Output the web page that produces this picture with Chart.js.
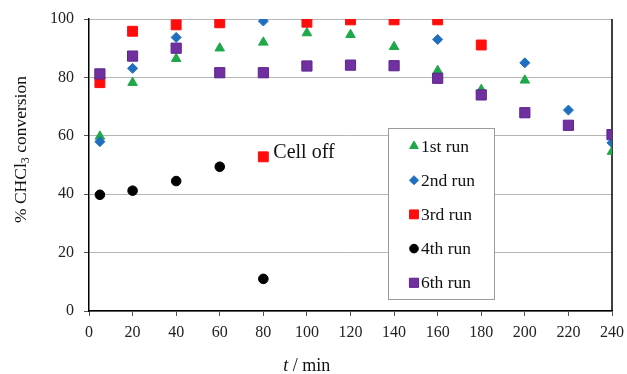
<!DOCTYPE html>
<html>
<head>
<meta charset="utf-8">
<script src="https://cdn.jsdelivr.net/npm/chart.js@4/dist/chart.umd.min.js"></script>
<style>
  html, body { margin: 0; padding: 0; background: #ffffff; }
  #wrap { width: 627px; height: 374px; position: relative; }
</style>
</head>
<body>
<div id="wrap"><canvas id="c" width="627" height="374"></canvas></div>
<script>
// ---- data ----
const run1X = [5, 20, 40, 60, 80, 100, 120, 140, 160, 180, 200, 240];
const run1Y = [59.8, 78.2, 86.4, 90.0, 92.0, 95.2, 94.6, 90.5, 82.3, 75.8, 79.0, 54.6];

const run2X = [5, 20, 40, 60, 80, 100, 160, 200, 220, 240];
const run2Y = [58.0, 83.1, 93.7, 99.0, 99.3, 99.6, 93.0, 85.0, 68.8, 57.6];

const run3X = [5, 20, 40, 60, 80, 100, 120, 140, 160, 180];
const run3Y = [78.2, 95.8, 98.0, 98.7, 52.8, 98.9, 99.7, 99.7, 99.7, 91.1];

const run4X = [5, 20, 40, 60, 80];
const run4Y = [39.8, 41.2, 44.5, 49.4, 11.0];

const run6X = [5, 20, 40, 60, 80, 100, 120, 140, 160, 180, 200, 220, 240];
const run6Y = [81.2, 87.3, 90.0, 81.6, 81.6, 83.9, 84.2, 84.0, 79.7, 74.0, 67.9, 63.6, 60.4];

const seriesNames = ['1st run', '2nd run', '3rd run', '4th run', '6th run'];
const xTicks = [0, 20, 40, 60, 80, 100, 120, 140, 160, 180, 200, 220, 240];
const yTicks = [0, 20, 40, 60, 80, 100];
const cellOffLabel = 'Cell off';
const cellOffX = 80;   // the 3rd-run point that carries the "Cell off" note
const yTitleParts = ['% CHCl', '3', ' conversion'];
const xTitleParts = ['t', ' / min'];

function pts(xs, ys) { return xs.map((x, i) => ({ x: x, y: ys[i] })); }

const styles = [
  { pointStyle: 'triangle', color: '#1ea84a', border: '#1ea84a', r: 5.5, bw: 1 },
  { pointStyle: 'rectRot',  color: '#1f6fc0', border: '#1f6fc0', r: 5,   bw: 1 },
  { pointStyle: 'rect',     color: '#ff0d0d', border: '#ff0d0d', r: 7,   bw: 1 },
  { pointStyle: 'circle',   color: '#000000', border: '#000000', r: 4.8, bw: 1 },
  { pointStyle: 'rect',     color: '#7030a0', border: '#5b2590', r: 7.2, bw: 1 }
];
const allData = [pts(run1X, run1Y), pts(run2X, run2Y), pts(run3X, run3Y), pts(run4X, run4Y), pts(run6X, run6Y)];

const datasets = allData.map((d, i) => ({
  label: seriesNames[i],
  data: d,
  showLine: false,
  pointStyle: styles[i].pointStyle,
  backgroundColor: styles[i].color,
  borderColor: styles[i].border,
  borderWidth: styles[i].bw,
  pointRadius: styles[i].r,
  pointHoverRadius: styles[i].r,
  order: 5 - i
}));

const SERIF = '"Liberation Serif", "Times New Roman", serif';

function drawMarker(ctx, st, x, y) {
  ctx.save();
  ctx.fillStyle = st.color;
  ctx.strokeStyle = st.border;
  ctx.lineWidth = st.bw;
  if (Chart.helpers && Chart.helpers.drawPoint) {
    Chart.helpers.drawPoint(ctx, { pointStyle: st.pointStyle, radius: st.r * 0.9, borderWidth: st.bw, rotation: 0 }, x, y);
  } else {
    ctx.beginPath(); ctx.arc(x, y, st.r * 0.8, 0, Math.PI * 2); ctx.fill();
  }
  ctx.restore();
}

const decor = {
  id: 'decor',
  beforeDatasetsDraw(chart) {
    const ctx = chart.ctx, a = chart.chartArea;
    ctx.save();
    ctx.strokeStyle = '#000';
    ctx.lineWidth = 1.5;
    ctx.beginPath();
    ctx.moveTo(a.right, a.top);
    ctx.lineTo(a.right, a.bottom);
    ctx.stroke();
    ctx.restore();
  },
  afterDraw(chart) {
    const ctx = chart.ctx, a = chart.chartArea;
    const xs = chart.scales.x, ys = chart.scales.y;
    ctx.save();

    // Cell off note next to the 3rd-run point at cellOffX
    const idx = run3X.indexOf(cellOffX);
    const px = xs.getPixelForValue(cellOffX), py = ys.getPixelForValue(run3Y[idx]);
    ctx.fillStyle = '#111';
    ctx.font = '20px ' + SERIF;
    ctx.textAlign = 'left';
    ctx.textBaseline = 'alphabetic';
    ctx.fillText(cellOffLabel, px + 10, py + 1.5);

    // Y axis title (rotated, with subscript)
    const big = '17.5px ' + SERIF, small = '12px ' + SERIF;
    ctx.font = big; const w0 = ctx.measureText(yTitleParts[0]).width;
    ctx.font = small; const w1 = ctx.measureText(yTitleParts[1]).width;
    ctx.font = big; const w2 = ctx.measureText(yTitleParts[2]).width;
    const total = w0 + w1 + w2;
    ctx.save();
    ctx.translate(21, 223 - total / 2);
    ctx.rotate(-Math.PI / 2);
    ctx.textBaseline = 'middle';
    ctx.textAlign = 'left';
    let cx = -total / 2;
    ctx.font = big; ctx.fillText(yTitleParts[0], cx, 0); cx += w0;
    ctx.font = small; ctx.fillText(yTitleParts[1], cx, 5); cx += w1;
    ctx.font = big; ctx.fillText(yTitleParts[2], cx, 0);
    ctx.restore();

    // X axis title
    const xbig = '18px ' + SERIF, ital = 'italic 18px ' + SERIF;
    ctx.font = ital; const t0 = ctx.measureText(xTitleParts[0]).width;
    ctx.font = xbig; const t1 = ctx.measureText(xTitleParts[1]).width;
    const xc = a.left + (a.right - a.left) * 0.4165;
    let sx = xc - (t0 + t1) / 2;
    ctx.textBaseline = 'alphabetic';
    ctx.font = ital; ctx.fillText(xTitleParts[0], sx, 371);
    ctx.font = xbig; ctx.fillText(xTitleParts[1], sx + t0, 371);

    // Legend box
    const W = a.right - a.left, H = a.bottom - a.top;
    const bx = a.left + W * 0.5717, bxr = a.left + W * 0.7744;
    const by = a.top + H * 0.3733, byb = a.top + H * 0.9589;
    ctx.fillStyle = '#ffffff';
    ctx.fillRect(bx, by, bxr - bx, byb - by);
    ctx.strokeStyle = '#9a9a9a';
    ctx.lineWidth = 1;
    ctx.strokeRect(Math.round(bx) + 0.5, Math.round(by) + 0.5, Math.round(bxr - bx), Math.round(byb - by));
    const row0 = a.top + H * 0.4349, step = (byb - by) * 0.2;
    ctx.font = '17.5px ' + SERIF;
    ctx.textBaseline = 'middle';
    ctx.textAlign = 'left';
    for (let i = 0; i < seriesNames.length; i++) {
      const ry = row0 + i * step;
      drawMarker(ctx, styles[i], bx + 26, ry);
      ctx.fillStyle = '#111';
      ctx.fillText(seriesNames[i], bx + 33, ry + 1);
    }
    ctx.restore();
  }
};

new Chart(document.getElementById('c'), {
  type: 'scatter',
  data: { datasets: datasets },
  options: {
    responsive: false,
    animation: false,
    devicePixelRatio: 1,
    layout: { padding: { top: 19, right: 15, left: 0, bottom: 0 } },
    plugins: { legend: { display: false }, tooltip: { enabled: false } },
    scales: {
      x: {
        type: 'linear',
        min: 0, max: 240,
        afterBuildTicks(scale) { scale.ticks = xTicks.map(v => ({ value: v })); },
        afterFit(scale) { scale.height = 63; scale.paddingLeft = 0; scale.paddingRight = 0; },
        grid: { display: true, drawOnChartArea: false, drawTicks: true, tickLength: 5, tickColor: '#555', color: '#555' },
        border: { display: true, color: '#000', width: 1.5 },
        ticks: { color: '#222', font: { family: SERIF, size: 16 }, padding: 7, maxRotation: 0, autoSkip: false }
      },
      y: {
        type: 'linear',
        min: 0, max: 100,
        afterBuildTicks(scale) { scale.ticks = yTicks.map(v => ({ value: v })); },
        afterFit(scale) { scale.width = 89; scale.paddingTop = 0; scale.paddingBottom = 0; },
        grid: { display: true, drawOnChartArea: true, drawTicks: true, tickLength: 5, color: '#b5b5b5', tickColor: '#555', lineWidth: 1 },
        border: { display: true, color: '#000', width: 1.5 },
        ticks: { color: '#222', font: { family: SERIF, size: 16 }, padding: 10 }
      }
    }
  },
  plugins: [decor]
});
</script>
</body>
</html>
